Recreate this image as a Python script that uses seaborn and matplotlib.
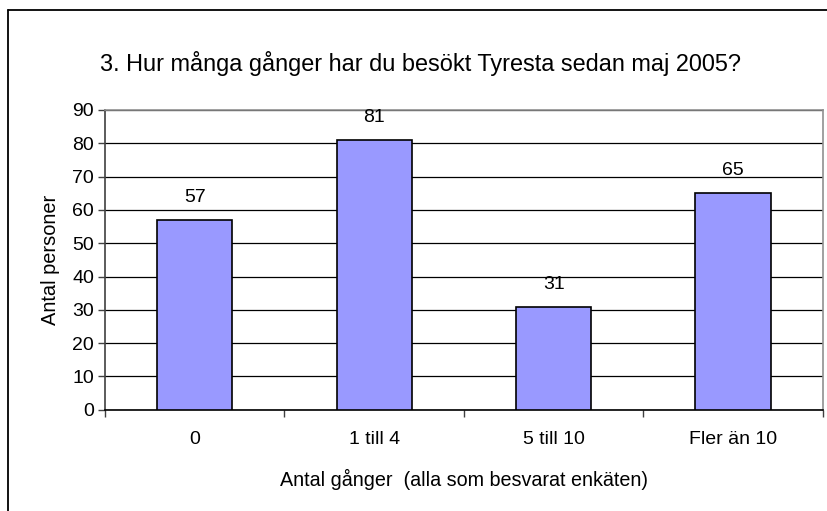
import matplotlib
matplotlib.use("Agg")
import matplotlib.pyplot as plt
import seaborn as sns
import pandas as pd
from matplotlib.lines import Line2D

categories = ["0", "1 till 4", "5 till 10", "Fler än 10"]
counts = [57, 81, 31, 65]
yticks = list(range(0, 100, 10))

sns.set_style("white")
plt.rcParams["font.family"] = ["Liberation Sans", "DejaVu Sans"]
plt.rcParams["text.color"] = "black"
plt.rcParams["axes.labelcolor"] = "black"
plt.rcParams["xtick.color"] = "black"
plt.rcParams["ytick.color"] = "black"

fs = 14

df = pd.DataFrame({"kategori": categories, "antal": counts})

fig = plt.figure(figsize=(8.27, 5.11), dpi=100)
ax = fig.add_axes([0.127, 0.198, 0.868, 0.587])

sns.barplot(data=df, x="kategori", y="antal", ax=ax, color="#9999ff",
            saturation=1, width=0.42, edgecolor="black", linewidth=1.2, zorder=3)

ax.set_ylim(0, 90)
ax.set_xlim(-0.5, len(categories) - 0.5)
ax.set_yticks(yticks)
ax.yaxis.grid(True, color="black", linewidth=0.9, zorder=0)
ax.set_axisbelow(True)

# category boundaries carry the tick marks
ax.set_xticks([i - 0.5 for i in range(len(categories) + 1)], minor=True)
ax.tick_params(axis="x", which="major", bottom=False, labelsize=fs, pad=12)
ax.tick_params(axis="x", which="minor", bottom=True, length=5, width=1,
               direction="out", color="#404040")
ax.tick_params(axis="y", left=True, length=5, width=1, direction="out",
               labelsize=fs, pad=3, color="#404040")

for side in ["top", "right"]:
    ax.spines[side].set_color("#909090")
ax.spines["left"].set_color("#404040")
ax.spines["bottom"].set_color("black")
for s in ax.spines.values():
    s.set_linewidth(1.2)

for c in ax.containers:
    ax.bar_label(c, padding=10, fontsize=fs)

ax.set_xlabel("Antal gånger  (alla som besvarat enkäten)", fontsize=14.2, labelpad=15)
ax.set_ylabel("Antal personer", fontsize=14.4, labelpad=9)

fig.text(0.509, 0.875, "3. Hur många gånger har du besökt Tyresta sedan maj 2005?",
         ha="center", va="center", fontsize=16.9)

# chart frame: only its top and left edges fall inside the picture
fx, fy = 7.5 / 827, 1 - 10.5 / 511
fig.add_artist(Line2D([fx, 1.0], [fy, fy], transform=fig.transFigure, color="black", linewidth=1.3))
fig.add_artist(Line2D([fx, fx], [0.0, fy], transform=fig.transFigure, color="black", linewidth=1.3))

fig.savefig("out.png", dpi=100)
